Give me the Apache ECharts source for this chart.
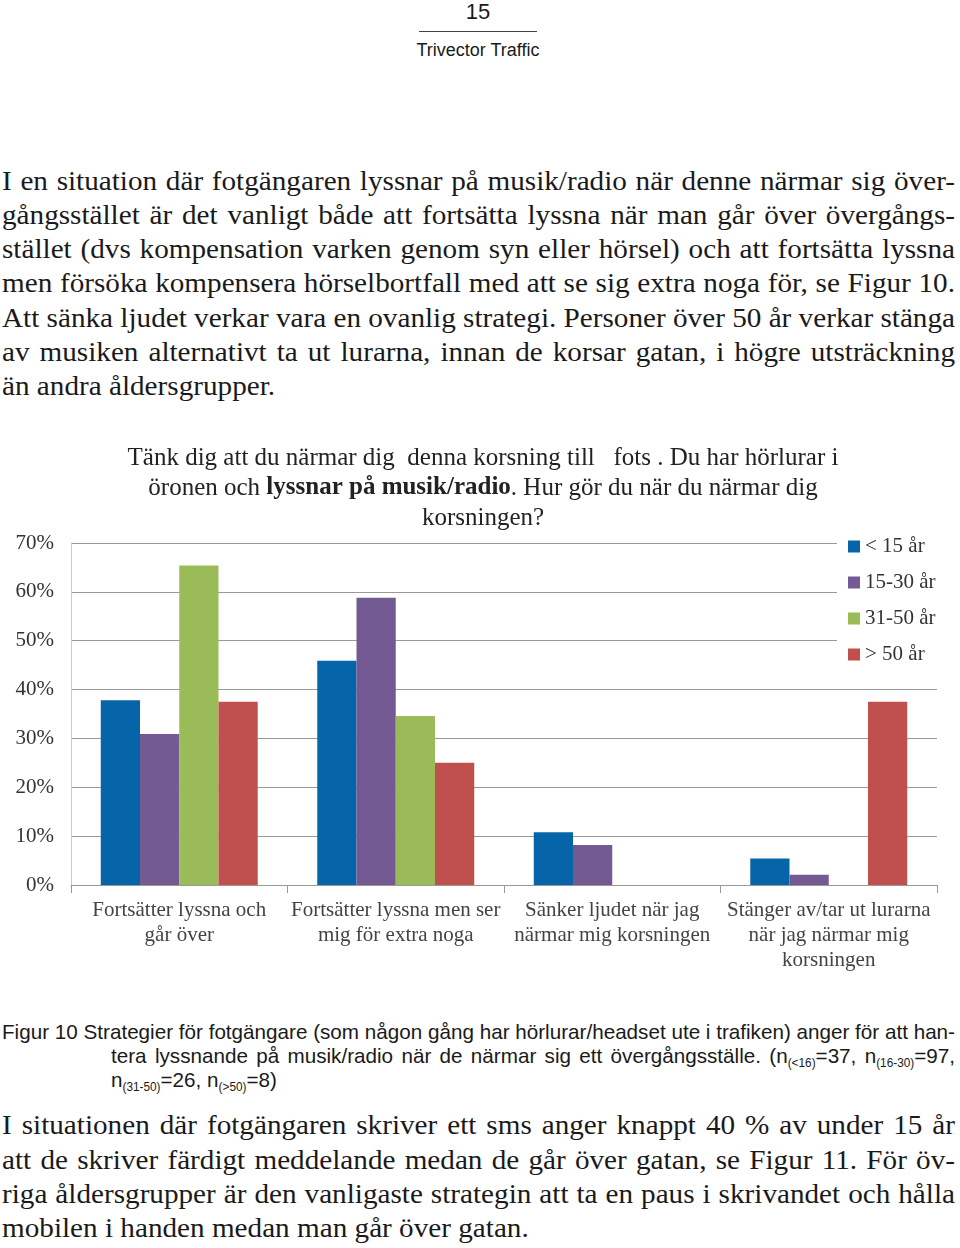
<!DOCTYPE html>
<html><head><meta charset="utf-8">
<script src="https://cdn.jsdelivr.net/npm/echarts@6/dist/echarts.min.js"></script>
<style>
html,body{margin:0;padding:0;background:#fff;}
#page{position:relative;width:960px;height:1248px;overflow:hidden;background:#fff;}
#chart{position:absolute;left:0;top:0;width:960px;height:1248px;z-index:1;}
.ln{position:absolute;white-space:nowrap;color:#1a1a1a;transform-origin:0 50%;}
.serif{font-family:'Liberation Serif','Times New Roman',serif;}
.sans{font-family:'Liberation Sans',Arial,sans-serif;}
.sb{font-size:12px;vertical-align:-4px;line-height:0;}
</style>
</head><body><div id="page"><div id="chart"></div></div>
<script>
// ---- chart data ----
const categories = [
  'Fortsätter lyssna och\ngår över',
  'Fortsätter lyssna men ser\nmig för extra noga',
  'Sänker ljudet när jag\nnärmar mig korsningen',
  'Stänger av/tar ut lurarna\nnär jag närmar mig\nkorsningen'
];
const seriesNames = ['< 15 år', '15-30 år', '31-50 år', '> 50 år'];
const under15 = [37.8, 45.9, 10.8, 5.4];
const age15to30 = [30.9, 58.8, 8.2, 2.1];
const age31to50 = [65.4, 34.6, 0, 0];
const over50 = [37.5, 25.0, 0, 37.5];
const seriesColors = ['#0565a8', '#735a92', '#9bbb59', '#c0504d'];
const yMin = 0, yMax = 70, yStep = 10;
const titleText = 'Tänk dig att du närmar dig  denna korsning till   fots . Du har hörlurar i\nöronen och {b|lyssnar på musik/radio}. Hur gör du när du närmar dig\nkorsningen?';

// ---- page text ----
const para1 = [
  'I en situation där fotgängaren lyssnar på musik/radio när denne närmar sig över-',
  'gångsstället är det vanligt både att fortsätta lyssna när man går över övergångs-',
  'stället (dvs kompensation varken genom syn eller hörsel) och att fortsätta lyssna',
  'men försöka kompensera hörselbortfall med att se sig extra noga för, se Figur 10.',
  'Att sänka ljudet verkar vara en ovanlig strategi. Personer över 50 år verkar stänga',
  'av musiken alternativt ta ut lurarna, innan de korsar gatan, i högre utsträckning',
  'än andra åldersgrupper.'
];
const para1Y = [181, 215, 249, 283, 318, 352, 386];
const captionLines = [
  'Figur 10 Strategier för fotgängare (som någon gång har hörlurar/headset ute i trafiken) anger för att han-',
  'tera lyssnande på musik/radio när de närmar sig ett övergångsställe. (n<span class="sb">(&lt;16)</span>=37, n<span class="sb">(16-30)</span>=97,',
  'n<span class="sb">(31-50)</span>=26, n<span class="sb">(&gt;50)</span>=8)'
];
const captionY = [1032, 1056, 1080];
const para2 = [
  'I situationen där fotgängaren skriver ett sms anger knappt 40 % av under 15 år',
  'att de skriver färdigt meddelande medan de går över gatan, se Figur 11. För öv-',
  'riga åldersgrupper är den vanligaste strategin att ta en paus i skrivandet och hålla',
  'mobilen i handen medan man går över gatan.'
];
const para2Y = [1125, 1160, 1194, 1228];

const page = document.getElementById('page');
function makeLine(html, cls, fs, lh, left, cy) {
  const d = document.createElement('div');
  d.className = 'ln ' + cls;
  d.style.fontSize = fs + 'px';
  d.style.lineHeight = lh + 'px';
  d.style.left = left + 'px';
  d.style.top = (cy - lh / 2) + 'px';
  const s = document.createElement('span');
  s.innerHTML = html;
  d.appendChild(s);
  page.appendChild(d);
  return { d, s, w: s.getBoundingClientRect().width };
}
// lines: [{html, left, cy, width, justify}] ; a common horizontal scale k is chosen so the tightest line fits
function layoutBlock(lines, cls, fs, lh, kMax) {
  const made = lines.map(l => Object.assign(makeLine(l.html, cls, fs, lh, l.left, l.cy), l));
  let k = kMax;
  made.forEach(m => { if (m.justify) k = Math.min(k, m.width / m.w); });
  made.forEach(m => {
    m.d.style.transform = 'scaleX(' + k + ')';
    if (m.justify) {
      const target = m.width / k;
      const spaces = (m.s.textContent.match(/ /g) || []).length;
      if (spaces > 0 && m.w < target) m.s.style.wordSpacing = ((target - m.w) / spaces) + 'px';
    }
  });
}
const SERIF = "'Liberation Serif','Times New Roman',serif";

// header
const h15 = makeLine('15', 'sans', 22, 24, 378, 12).d;
h15.style.width = '200px'; h15.style.textAlign = 'center';
const rule = document.createElement('div');
rule.style.cssText = 'position:absolute;left:419px;top:31px;width:118px;height:1px;background:#444;';
page.appendChild(rule);
const ht = makeLine('Trivector Traffic', 'sans', 18, 20, 378, 50).d;
ht.style.width = '200px'; ht.style.textAlign = 'center';

const serifLines = [];
para1.forEach((t, i) => serifLines.push({ html: t, left: 2, cy: para1Y[i], width: 953, justify: i < para1.length - 1 }));
para2.forEach((t, i) => serifLines.push({ html: t, left: 2, cy: para2Y[i], width: 953, justify: i < para2.length - 1 }));
layoutBlock(serifLines, 'serif', 27, 34, 1.15);
layoutBlock([
  { html: captionLines[0], left: 2, cy: captionY[0], width: 953, justify: true },
  { html: captionLines[1], left: 111, cy: captionY[1], width: 844, justify: true },
  { html: captionLines[2], left: 111, cy: captionY[2], width: 400, justify: false }
], 'sans', 21, 24, 1.0);

// chart
const chart = echarts.init(document.getElementById('chart'), null, {renderer: 'canvas'});
const values = [under15, age15to30, age31to50, over50];
const option = {
  animation: false,
  title: {
    text: titleText,
    left: 478, top: 438, textAlign: 'center',
    textStyle: {
      fontFamily: SERIF, fontSize: 25, fontWeight: 'normal', color: '#222', lineHeight: 30,
      rich: { b: { fontFamily: SERIF, fontSize: 25, fontWeight: 'bold', color: '#222', lineHeight: 30 } }
    }
  },
  legend: {
    orient: 'vertical', left: 837, top: 530,
    backgroundColor: '#fff', padding: [6, 30, 10, 11],
    itemWidth: 12, itemHeight: 12, itemGap: 15, icon: 'rect',
    textStyle: { fontFamily: SERIF, fontSize: 21, color: '#333' },
    data: seriesNames
  },
  grid: { left: 71, right: 23, top: 543, bottom: 363, containLabel: false },
  xAxis: {
    type: 'category', data: categories,
    axisLine: { lineStyle: { color: '#999' } },
    axisTick: { show: true, length: 8, lineStyle: { color: '#999' } },
    axisLabel: { fontFamily: SERIF, fontSize: 21, lineHeight: 25, color: '#444', margin: 13, interval: 0 }
  },
  yAxis: {
    type: 'value', min: yMin, max: yMax, interval: yStep,
    axisLine: { show: true, lineStyle: { color: '#ccc' } },
    axisTick: { show: false },
    axisLabel: { formatter: '{value}%', fontFamily: SERIF, fontSize: 21, color: '#333', margin: 17 },
    splitLine: { lineStyle: { color: '#999' } }
  },
  series: seriesNames.map((n, i) => ({
    name: n, type: 'bar', data: values[i],
    barGap: '0%', barCategoryGap: '27.5%',
    itemStyle: { color: seriesColors[i] }
  }))
};
chart.setOption(option);
</script>
</body></html>
